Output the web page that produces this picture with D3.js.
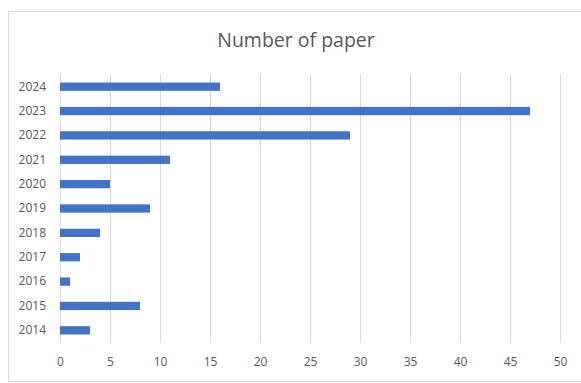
<!DOCTYPE html>
<html>
<head>
<meta charset="utf-8">
<script src="https://cdn.jsdelivr.net/npm/d3@7"></script>
<style>
  body { margin: 0; background: #fff; overflow: hidden; }
  svg { display: block; }
  text { font-family: "Open Sans", sans-serif; fill: #595959; }
  .grid line { stroke: #d9d9d9; }
</style>
</head>
<body>
<script>
var years = ["2014","2015","2016","2017","2018","2019","2020","2021","2022","2023","2024"];
var papers = [3, 8, 1, 2, 4, 9, 5, 11, 29, 47, 16];
var xTicks = [0, 5, 10, 15, 20, 25, 30, 35, 40, 45, 50];

var xScale = d3.scaleLinear().domain([0, 50]).range([60, 560]);
var yScale = d3.scaleBand().domain(years.slice().reverse()).range([74.5, 342.5])
    .paddingInner(0.66).paddingOuter(0.33);

var loadChart = function(){
    var svg = d3.select("body").append("svg")
        .attr("width", 581)
        .attr("height", 383);

    svg.append("rect")
        .attr("x", 8.5).attr("y", 11.5)
        .attr("width", 620).attr("height", 370)
        .attr("fill", "#fff")
        .attr("stroke", "#d9d9d9");

    svg.append("text")
        .attr("x", 296).attr("y", 47)
        .attr("text-anchor", "middle")
        .style("font-size", "19.5px")
        .text("Number of paper");

    // vertical gridlines
    svg.append("g").attr("class", "grid")
        .selectAll("line").data(xTicks).enter().append("line")
        .attr("x1", function(d){ return xScale(d) + 0.5; })
        .attr("x2", function(d){ return xScale(d) + 0.5; })
        .attr("y1", 74.5).attr("y2", 342.5);

    svg.selectAll(".bar").data(years).enter().append("rect")
        .attr("class", "bar")
        .attr("x", xScale(0))
        .attr("y", function(d){ return yScale(d); })
        .attr("width", function(d, i){ return xScale(papers[i]) - xScale(0); })
        .attr("height", yScale.bandwidth())
        .attr("fill", "#4472c4");

    var xAxis = d3.axisBottom(xScale).tickValues(xTicks).tickSize(0).tickPadding(0);
    svg.append("g")
        .attr("transform", "translate(0,357)")
        .call(xAxis)
        .selectAll("text").style("font-size", "12px").style("fill", "#595959");

    var yAxis = d3.axisLeft(yScale).tickSize(0).tickPadding(14);
    svg.append("g")
        .attr("transform", "translate(60,0)")
        .call(yAxis)
        .selectAll("text").style("font-size", "12px").style("fill", "#595959");

    svg.selectAll(".domain").remove();
}

window.onload = loadChart;
</script>
</body>
</html>
